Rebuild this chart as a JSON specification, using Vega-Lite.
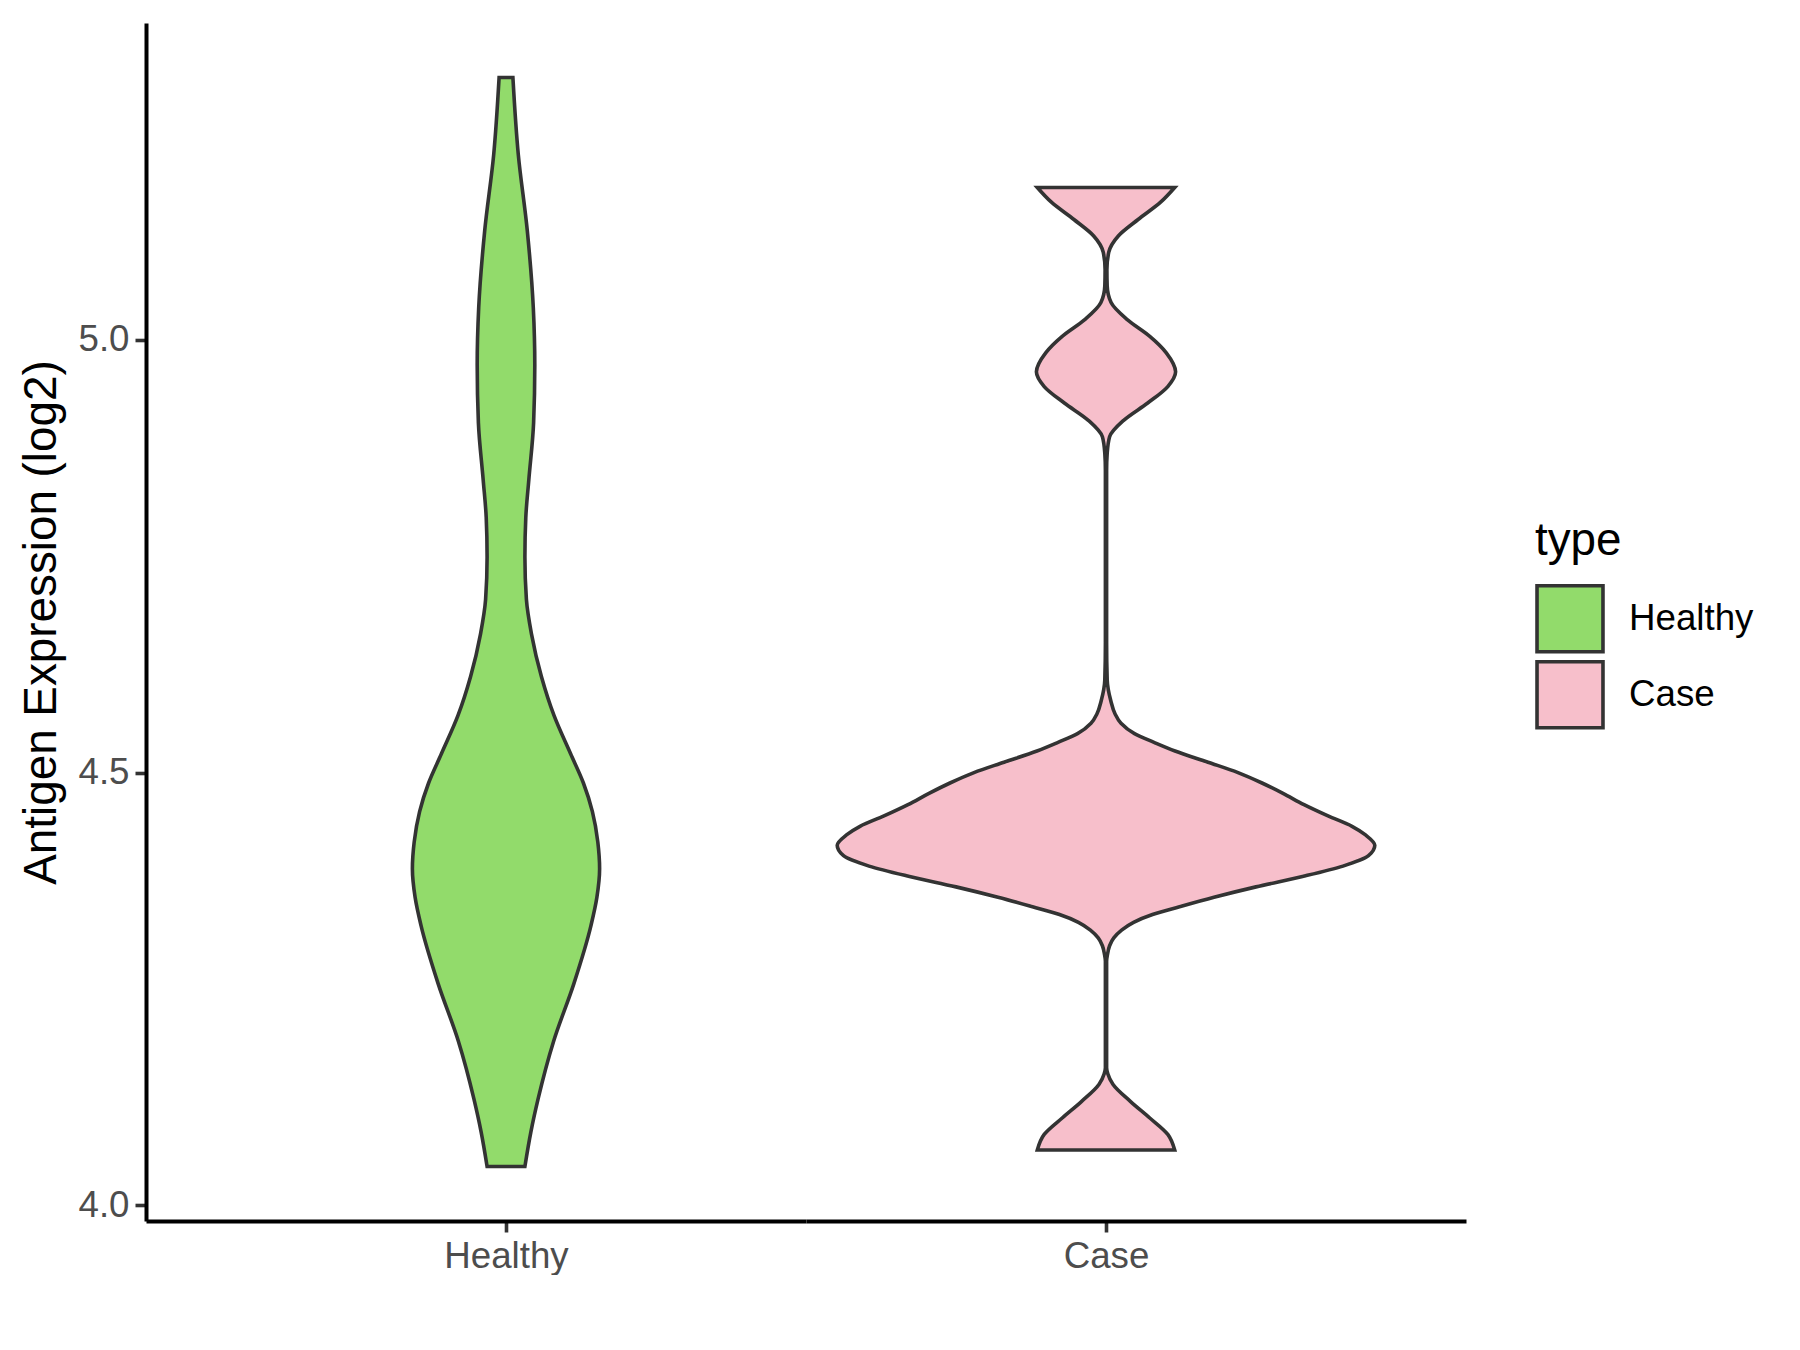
{
  "$schema": "https://vega.github.io/schema/vega-lite/v6.json",
  "background": "white",
  "padding": {"left": 18, "top": 23, "right": 0, "bottom": 0},
  "autosize": {"type": "pad"},
  "data": {
    "values": [
      {"type": "Healthy", "expression": 5.303, "width": 0.023},
      {"type": "Healthy", "expression": 5.214, "width": 0.041},
      {"type": "Healthy", "expression": 5.126, "width": 0.071},
      {"type": "Healthy", "expression": 5.037, "width": 0.091},
      {"type": "Healthy", "expression": 4.971, "width": 0.096},
      {"type": "Healthy", "expression": 4.904, "width": 0.092},
      {"type": "Healthy", "expression": 4.838, "width": 0.076},
      {"type": "Healthy", "expression": 4.795, "width": 0.066},
      {"type": "Healthy", "expression": 4.749, "width": 0.063},
      {"type": "Healthy", "expression": 4.700, "width": 0.068},
      {"type": "Healthy", "expression": 4.660, "width": 0.085},
      {"type": "Healthy", "expression": 4.611, "width": 0.118},
      {"type": "Healthy", "expression": 4.566, "width": 0.160},
      {"type": "Healthy", "expression": 4.522, "width": 0.215},
      {"type": "Healthy", "expression": 4.488, "width": 0.258},
      {"type": "Healthy", "expression": 4.455, "width": 0.288},
      {"type": "Healthy", "expression": 4.420, "width": 0.306},
      {"type": "Healthy", "expression": 4.389, "width": 0.312},
      {"type": "Healthy", "expression": 4.356, "width": 0.303},
      {"type": "Healthy", "expression": 4.323, "width": 0.283},
      {"type": "Healthy", "expression": 4.256, "width": 0.226},
      {"type": "Healthy", "expression": 4.190, "width": 0.159},
      {"type": "Healthy", "expression": 4.123, "width": 0.107},
      {"type": "Healthy", "expression": 4.085, "width": 0.083},
      {"type": "Healthy", "expression": 4.045, "width": 0.063},
      {"type": "Case", "expression": 5.176, "width": 0.229},
      {"type": "Case", "expression": 5.159, "width": 0.182},
      {"type": "Case", "expression": 5.139, "width": 0.107},
      {"type": "Case", "expression": 5.120, "width": 0.041},
      {"type": "Case", "expression": 5.101, "width": 0.009},
      {"type": "Case", "expression": 5.081, "width": 0.003},
      {"type": "Case", "expression": 5.062, "width": 0.004},
      {"type": "Case", "expression": 5.043, "width": 0.017},
      {"type": "Case", "expression": 5.023, "width": 0.072},
      {"type": "Case", "expression": 5.004, "width": 0.146},
      {"type": "Case", "expression": 4.985, "width": 0.201},
      {"type": "Case", "expression": 4.963, "width": 0.232},
      {"type": "Case", "expression": 4.946, "width": 0.206},
      {"type": "Case", "expression": 4.927, "width": 0.139},
      {"type": "Case", "expression": 4.907, "width": 0.059},
      {"type": "Case", "expression": 4.888, "width": 0.012},
      {"type": "Case", "expression": 4.869, "width": 0.004},
      {"type": "Case", "expression": 4.849, "width": 0.002},
      {"type": "Case", "expression": 4.750, "width": 0.002},
      {"type": "Case", "expression": 4.650, "width": 0.002},
      {"type": "Case", "expression": 4.607, "width": 0.004},
      {"type": "Case", "expression": 4.583, "width": 0.016},
      {"type": "Case", "expression": 4.568, "width": 0.030},
      {"type": "Case", "expression": 4.557, "width": 0.050},
      {"type": "Case", "expression": 4.545, "width": 0.095},
      {"type": "Case", "expression": 4.535, "width": 0.160},
      {"type": "Case", "expression": 4.525, "width": 0.230},
      {"type": "Case", "expression": 4.512, "width": 0.340},
      {"type": "Case", "expression": 4.500, "width": 0.440},
      {"type": "Case", "expression": 4.488, "width": 0.520},
      {"type": "Case", "expression": 4.476, "width": 0.590},
      {"type": "Case", "expression": 4.463, "width": 0.660},
      {"type": "Case", "expression": 4.450, "width": 0.740},
      {"type": "Case", "expression": 4.438, "width": 0.820},
      {"type": "Case", "expression": 4.428, "width": 0.865},
      {"type": "Case", "expression": 4.416, "width": 0.896},
      {"type": "Case", "expression": 4.404, "width": 0.875},
      {"type": "Case", "expression": 4.392, "width": 0.790},
      {"type": "Case", "expression": 4.380, "width": 0.655},
      {"type": "Case", "expression": 4.368, "width": 0.500},
      {"type": "Case", "expression": 4.356, "width": 0.360},
      {"type": "Case", "expression": 4.345, "width": 0.245},
      {"type": "Case", "expression": 4.336, "width": 0.155},
      {"type": "Case", "expression": 4.327, "width": 0.092},
      {"type": "Case", "expression": 4.318, "width": 0.052},
      {"type": "Case", "expression": 4.309, "width": 0.026},
      {"type": "Case", "expression": 4.300, "width": 0.012},
      {"type": "Case", "expression": 4.290, "width": 0.005},
      {"type": "Case", "expression": 4.282, "width": 0.002},
      {"type": "Case", "expression": 4.220, "width": 0.002},
      {"type": "Case", "expression": 4.159, "width": 0.002},
      {"type": "Case", "expression": 4.152, "width": 0.006},
      {"type": "Case", "expression": 4.140, "width": 0.023},
      {"type": "Case", "expression": 4.120, "width": 0.082},
      {"type": "Case", "expression": 4.101, "width": 0.146},
      {"type": "Case", "expression": 4.082, "width": 0.206},
      {"type": "Case", "expression": 4.064, "width": 0.229}
    ]
  },
  "spacing": -1,
  "resolve": {"scale": {"x": "independent"}},
  "hconcat": [
    {
      "width": 660,
      "height": 1198,
      "transform": [{"filter": "datum.type === 'Healthy'"}],
      "mark": {"type": "area", "orient": "horizontal", "interpolate": "monotone", "stroke": "#333333", "strokeWidth": 3.6, "fillOpacity": 1},
      "encoding": {
        "y": {
          "field": "expression", "type": "quantitative",
          "scale": {"domain": [3.982, 5.366], "nice": false, "zero": false},
          "axis": {
            "values": [4, 4.5, 5], "format": ".1f", "grid": false,
            "domainColor": "#000000", "domainWidth": 4,
            "tickColor": "#333333", "tickWidth": 3.6, "tickSize": 11,
            "labelFontSize": 36.7, "labelColor": "#4D4D4D", "labelPadding": 6, "labelFont": "Liberation Sans",
            "title": "Antigen Expression (log2)", "titleFontSize": 45.8, "titleFontWeight": "normal",
            "titleColor": "#000000", "titlePadding": 12, "titleFont": "Liberation Sans"
          }
        },
        "x": {
          "field": "width", "type": "quantitative", "stack": "center",
          "scale": {"domain": [-0.444, 0.656], "nice": false, "zero": false},
          "axis": {
            "values": [0.156], "labelExpr": "'Healthy'", "title": null, "grid": false,
            "domainColor": "#000000", "domainWidth": 4,
            "tickColor": "#333333", "tickWidth": 3.6, "tickSize": 11,
            "labelFontSize": 36.7, "labelColor": "#4D4D4D", "labelPadding": 6, "labelFont": "Liberation Sans"
          }
        },
        "color": {
          "field": "type", "type": "nominal",
          "scale": {"domain": ["Healthy", "Case"], "range": ["#92DB6B", "#F7BFCB"]},
          "legend": {
            "orient": "none", "legendX": 1389, "legendY": 496,
            "title": "type", "titleFontSize": 45.8, "titleFontWeight": "normal", "titleColor": "#000000", "titleFont": "Liberation Sans",
            "titlePadding": 19,
            "labelFontSize": 36.7, "labelColor": "#000000", "labelFont": "Liberation Sans", "labelOffset": 24,
            "symbolType": "square", "symbolSize": 4350, "symbolStrokeColor": "#333333", "symbolStrokeWidth": 3.6,
            "symbolFillOpacity": 1, "rowPadding": -11.5,
            "encode": {"symbols": {"update": {"stroke": {"value": "#333333"}, "strokeWidth": {"value": 3.6}}}}
          }
        }
      }
    },
    {
      "width": 660,
      "height": 1198,
      "transform": [{"filter": "datum.type === 'Case'"}],
      "mark": {"type": "area", "orient": "horizontal", "interpolate": "monotone", "stroke": "#333333", "strokeWidth": 3.6, "fillOpacity": 1},
      "encoding": {
        "y": {
          "field": "expression", "type": "quantitative",
          "scale": {"domain": [3.982, 5.366], "nice": false, "zero": false},
          "axis": null
        },
        "x": {
          "field": "width", "type": "quantitative", "stack": "center",
          "scale": {"domain": [-0.052, 1.048], "nice": false, "zero": false},
          "axis": {
            "values": [0.448], "labelExpr": "'Case'", "title": null, "grid": false,
            "domainColor": "#000000", "domainWidth": 4,
            "tickColor": "#333333", "tickWidth": 3.6, "tickSize": 11,
            "labelFontSize": 36.7, "labelColor": "#4D4D4D", "labelPadding": 6, "labelFont": "Liberation Sans"
          }
        },
        "color": {
          "field": "type", "type": "nominal",
          "scale": {"domain": ["Healthy", "Case"], "range": ["#92DB6B", "#F7BFCB"]}
        }
      }
    }
  ],
  "config": {
    "view": {"stroke": null},
    "font": "Liberation Sans",
    "concat": {"spacing": -1}
  }
}
